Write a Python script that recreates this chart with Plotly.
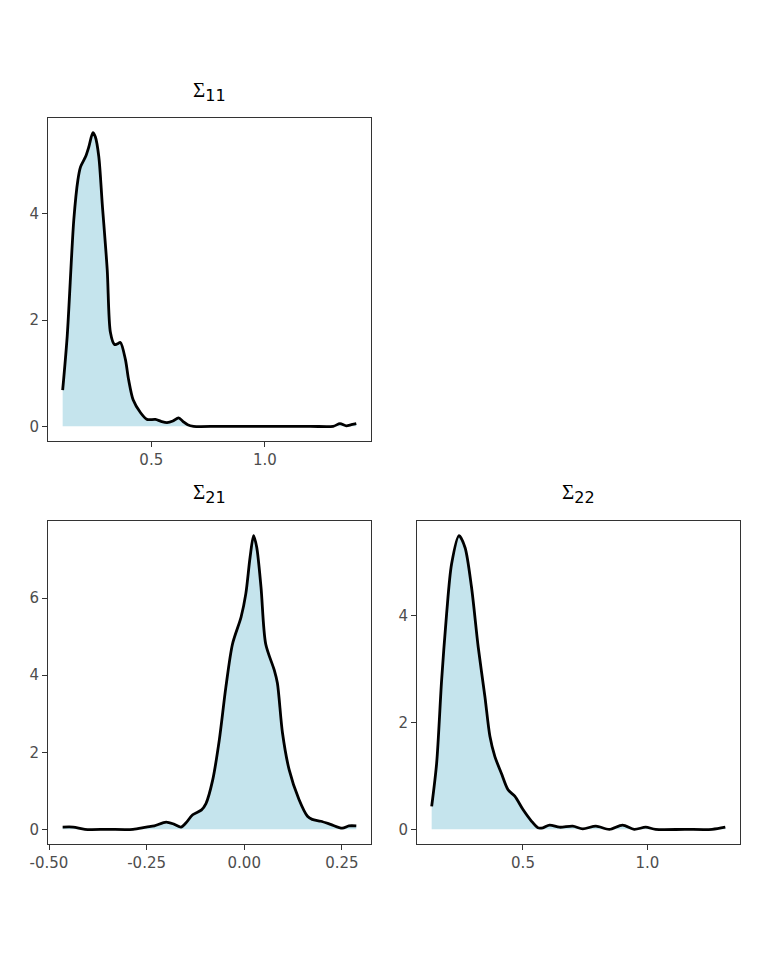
"""Posterior density panels for the covariance entries (Sigma)."""

import plotly.graph_objects as go

# Sigma_11 density
s11_x = [0.110, 0.130, 0.159, 0.177, 0.189, 0.211, 0.225, 0.243, 0.254, 0.269,
         0.284, 0.306, 0.320, 0.338, 0.350, 0.364, 0.386, 0.400, 0.420, 0.452,
         0.481, 0.518, 0.545, 0.569, 0.595, 0.620, 0.640, 0.660, 0.686, 0.800,
         1.000, 1.200, 1.300, 1.330, 1.358, 1.380, 1.402]
s11_y = [0.68, 1.70, 3.89, 4.64, 4.89, 5.08, 5.26, 5.53, 5.45, 5.08,
         4.20, 2.95, 1.77, 1.54, 1.55, 1.58, 1.26, 0.88, 0.50, 0.26,
         0.13, 0.13, 0.09, 0.07, 0.10, 0.16, 0.09, 0.03, 0.00, 0.00,
         0.00, 0.00, 0.00, 0.05, 0.01, 0.03, 0.05]

# Sigma_21 density
s21_x = [-0.465, -0.438, -0.408, -0.350, -0.285, -0.251, -0.230, -0.200, -0.179,
         -0.162, -0.149, -0.132, -0.110, -0.098, -0.081, -0.064, -0.047, -0.030,
         -0.008, 0.004, 0.015, 0.024, 0.032, 0.043, 0.055, 0.077, 0.085, 0.098,
         0.115, 0.140, 0.162, 0.174, 0.196, 0.221, 0.251, 0.268, 0.287]
s21_y = [0.06, 0.06, 0.00, 0.00, 0.00, 0.06, 0.09, 0.19, 0.13,
         0.06, 0.17, 0.38, 0.50, 0.67, 1.27, 2.31, 3.69, 4.81,
         5.51, 6.11, 7.06, 7.62, 7.32, 6.28, 4.81, 4.13, 3.79, 2.50,
         1.55, 0.78, 0.34, 0.26, 0.21, 0.13, 0.03, 0.09, 0.09]

# Sigma_22 density
s22_x = [0.133, 0.153, 0.173, 0.193, 0.213, 0.243, 0.267, 0.293, 0.320, 0.347,
         0.367, 0.387, 0.413, 0.440, 0.467, 0.500, 0.533, 0.560, 0.580, 0.607,
         0.647, 0.700, 0.740, 0.793, 0.847, 0.900, 0.947, 0.993, 1.033, 1.150,
         1.260, 1.313]
s22_y = [0.43, 1.24, 2.79, 4.03, 4.96, 5.49, 5.27, 4.53, 3.41, 2.48,
         1.74, 1.36, 1.05, 0.74, 0.62, 0.37, 0.16, 0.03, 0.03, 0.08,
         0.04, 0.06, 0.01, 0.06, 0.00, 0.08, 0.00, 0.04, 0.00, 0.00,
         0.00, 0.04]

subscripts = ['11', '21', '22']

x_ticks = [[0.5, 1.0], [-0.5, -0.25, 0.0, 0.25], [0.5, 1.0]]
x_labels = [['0.5', '1.0'], ['-0.50', '-0.25', '0.00', '0.25'], ['0.5', '1.0']]
y_ticks = [[0, 2, 4], [0, 2, 4, 6], [0, 2, 4]]

FILL = 'rgba(173,216,230,0.7)'
FRAME = '#333333'
TEXT = '#4d4d4d'


def _padded(values):
    """Return the range of `values` expanded by 5% on each side."""
    lo, hi = min(values), max(values)
    pad = (hi - lo) * 0.05
    return [lo - pad, hi + pad]


def _title(sub):
    """Sigma with a sans-serif subscript, as in the reference."""
    return ("Σ<sub><span style='font-family:DejaVu Sans;font-size:16px'>"
            f"{sub}</span></sub>")


# (x, y, x-domain, y-domain, title y) for each panel
panels = [
    (s11_x, s11_y, [0.0141, 0.4703], [0.5511, 0.9022], 0.9315),
    (s21_x, s21_y, [0.0141, 0.4703], [0.1130, 0.4641], 0.4935),
    (s22_x, s22_y, [0.5353, 0.9915], [0.1130, 0.4641], 0.4935),
]

fig = go.Figure()
layout = dict(
    width=768,
    height=960,
    margin=dict(l=30, r=30, t=20, b=20, autoexpand=False),
    paper_bgcolor='white',
    plot_bgcolor='white',
    showlegend=False,
    font=dict(family='DejaVu Sans', size=15, color=TEXT),
    annotations=[],
)

for i, (xs, ys, xdom, ydom, ty) in enumerate(panels):
    n = '' if i == 0 else str(i + 1)
    fig.add_trace(go.Scatter(
        x=xs, y=ys,
        mode='lines',
        line=dict(color='black', width=2.8, shape='spline', smoothing=0.8),
        fill='tozeroy',
        fillcolor=FILL,
        xaxis='x' + n, yaxis='y' + n,
        hoverinfo='skip',
    ))
    axis_style = dict(
        showgrid=False, zeroline=False,
        showline=True, linecolor=FRAME, linewidth=1, mirror=True,
        ticks='outside', ticklen=5, tickwidth=1.2, tickcolor=FRAME,
        tickfont=dict(family='DejaVu Sans', size=15, color=TEXT),
    )
    layout['xaxis' + n] = dict(
        domain=xdom, anchor='y' + n, range=_padded(xs),
        tickvals=x_ticks[i], ticktext=x_labels[i], **axis_style,
    )
    layout['yaxis' + n] = dict(
        domain=ydom, anchor='x' + n, range=_padded([0] + ys),
        tickvals=y_ticks[i], **axis_style,
    )
    layout['annotations'].append(dict(
        text=_title(subscripts[i]),
        x=sum(xdom) / 2, y=ty,
        xref='paper', yref='paper',
        xanchor='center', yanchor='middle',
        showarrow=False,
        font=dict(family='Liberation Serif', size=21, color='black'),
    ))

fig.update_layout(**layout)
fig.write_html("out.html")
